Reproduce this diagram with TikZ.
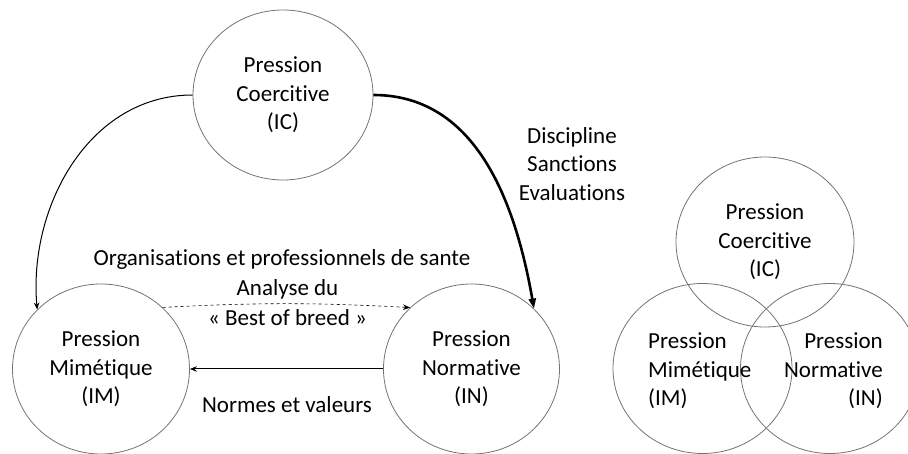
\documentclass[tikz,border=0pt]{standalone}
\usepackage{fontspec}
\setmainfont{Carlito}[Ligatures=NoCommon]
\usetikzlibrary{shapes.geometric,arrows.meta}
\begin{document}
\begin{tikzpicture}[x=1pt,y=-1pt,
  every node/.style={font=\fontsize{23}{28.5}\selectfont},
  press/.style={draw=black!55, line width=0.8pt, ellipse, inner sep=0pt, align=center},
  lbl/.style={align=center, inner sep=0pt},
  arr/.style={-{Stealth[length=7pt,width=5.5pt]}, line width=1pt}]
\useasboundingbox (0,0) rectangle (908,454);
% left diagram
\node[press, minimum width=180pt, minimum height=170pt] (IC) at (283,95) {Pression\\Coercitive\\(IC)};
\node[press, minimum width=177pt, minimum height=170pt] (IM) at (101,369) {Pression\\Mimétique\\(IM)};
\node[press, minimum width=176pt, minimum height=170pt] (IN) at (471.5,369) {Pression\\Normative\\(IN)};
\draw[arr] (IC.west) to[out=180,in=95] (IM.137);
\draw[-{Triangle[length=10pt,width=7pt]}, line width=2.6pt] (IC.east) to[out=0,in=100] (IN.44);
\draw[arr, dashed, line width=0.6pt] (IM.45) to[bend left=3] (IN.135);
\draw[arr] (IN.west) -- (IM.east);
\node[lbl] (org) at (282,259) {Organisations et professionnels de sante};
\node[lbl] (ana) at (287.5,289) {Analyse du};
\node[lbl] (bob) at (287.5,318) {« Best of breed »};
\node[lbl] (nv) at (287,405) {Normes et valeurs};
\node[lbl] (dis) at (572,164) {Discipline\\Sanctions\\Evaluations};
% venn diagram
\node[press, minimum width=178pt, minimum height=170pt] (vC) at (765,242) {Pression\\Coercitive\\(IC)};
\node[press, minimum width=179pt, minimum height=170pt] (vM) at (702.5,368.5) {};
\node[press, minimum width=179pt, minimum height=170pt] (vN) at (830,368.5) {};
\node[lbl, align=left, anchor=west] (tM) at (648,371) {Pression\\Mimétique\\(IM)};
\node[lbl, align=right, anchor=east] (tN) at (883,371) {Pression\\Normative\\(IN)};
\end{tikzpicture}
\end{document}
